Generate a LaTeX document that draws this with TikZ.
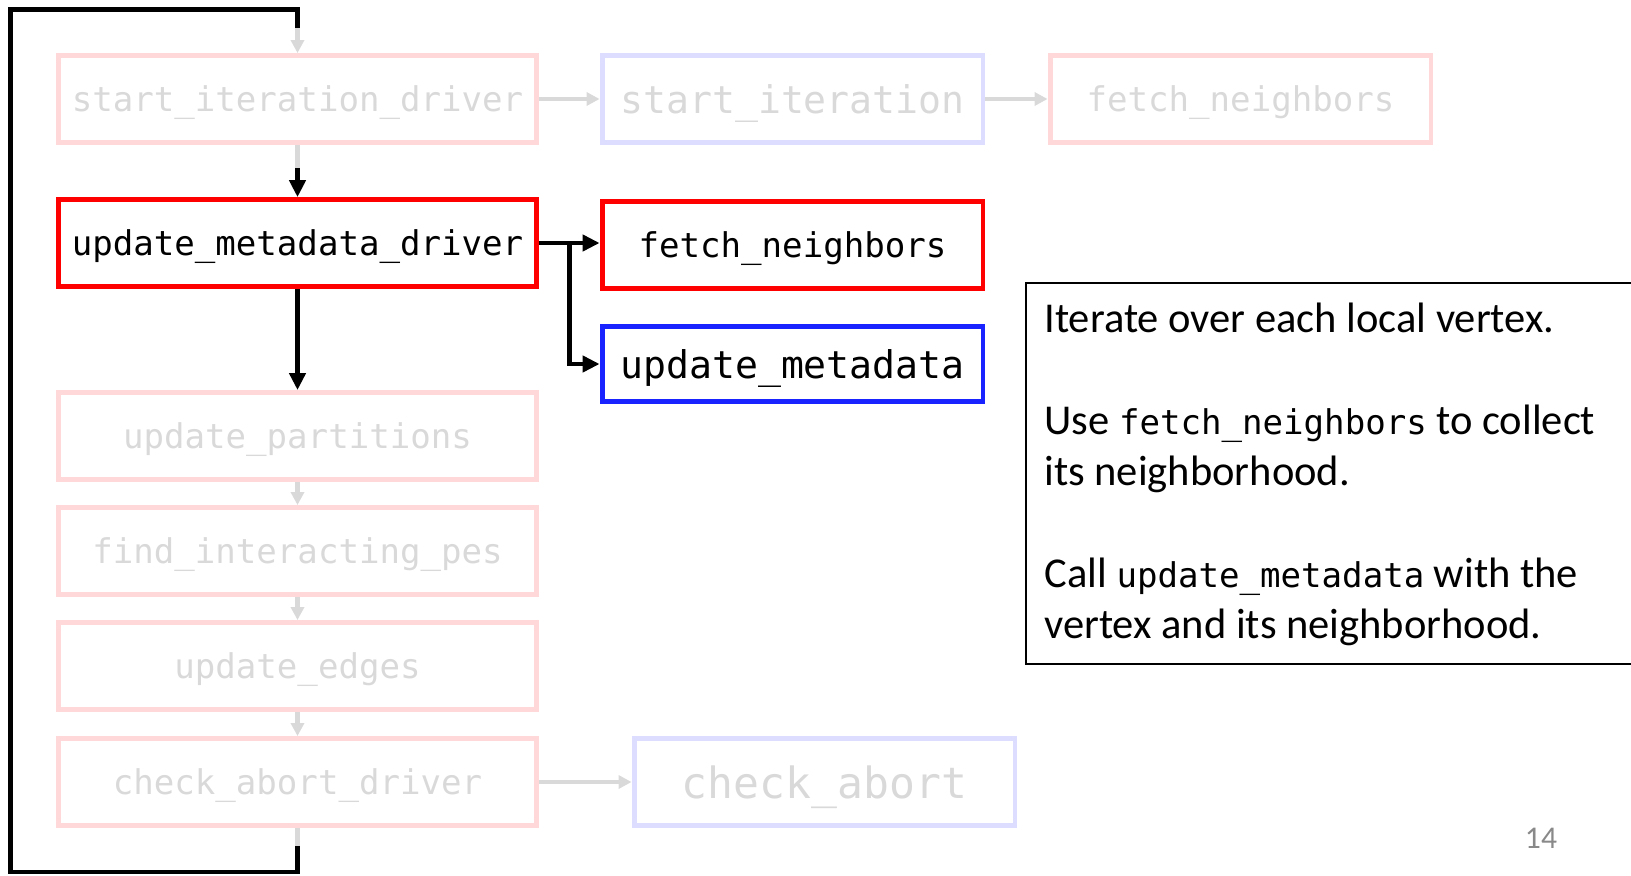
\documentclass[tikz,border=0pt]{standalone}
\usepackage{fontspec}
\setmainfont{Carlito}
\setmonofont{DejaVu Sans Mono}
\usetikzlibrary{arrows.meta, positioning, calc}

\definecolor{fadered}{RGB}{255,217,217}
\definecolor{fadeblue}{RGB}{221,221,255}
\definecolor{fadetext}{RGB}{217,217,217}
\definecolor{hotblue}{RGB}{25,35,255}
\definecolor{pagegray}{RGB}{137,137,137}

\newcommand{\code}[1]{{\ttfamily\fontsize{19.4}{29}\selectfont #1}}

\begin{document}
\begin{tikzpicture}[x=0.02cm, y=-0.02cm,
      box/.style={draw, line width=2.8pt, minimum height=1.74cm, inner sep=0pt,
                  text height=18pt, text depth=3.3pt,
                  font=\ttfamily\fontsize{19.4}{23}\selectfont},
      drv/.style={box, minimum width=9.55cm},
      kern/.style={box, minimum width=7.62cm},
      live/.style={draw=red, text=black},
      liveb/.style={draw=hotblue, text=black},
      dimr/.style={draw=fadered, text=fadetext},
      dimb/.style={draw=fadeblue, text=fadetext},
      big/.style={font=\ttfamily\fontsize{21.7}{26}\selectfont, text height=19.8pt},
      arr/.style={-{Triangle[length=0.34cm, width=0.32cm]}, line width=2.6pt},
      dimarr/.style={-{Triangle[length=0.26cm, width=0.26cm]}, line width=2.3pt, fadetext},
      back/.style={line width=2.7pt}]

    \useasboundingbox (0,0) rectangle (1631,875);

    % driver column
    \node[drv, dimr] (sid) at (297.5, 99)  {start\_iteration\_driver};
    \node[drv, live] (umd) at (297.5, 243) {update\_metadata\_driver};
    \node[drv, dimr] (up)  at (297.5, 436) {update\_partitions};
    \node[drv, dimr] (fip) at (297.5, 551) {find\_interacting\_pes};
    \node[drv, dimr] (ue)  at (297.5, 666) {update\_edges};
    \node[drv, dimr] (cad) at (297.5, 782) {check\_abort\_driver};

    % kernels called by the drivers
    \node[kern, dimb, big] (si)  at (792.5, 99)  {start\_iteration};
    \node[kern, dimr]      (fnf) at (1240.5, 99) {fetch\_neighbors};
    \node[kern, live]      (fn)  at (792.5, 245) {fetch\_neighbors};
    \node[kern, liveb, big, minimum height=1.5cm] (um) at (792.5, 364) {update\_metadata};
    \node[kern, dimb, font=\ttfamily\fontsize{24.5}{29}\selectfont, text height=21.9pt]
         (ca) at (824.5, 782) {check\_abort};

    % faded flow
    \draw[dimarr] (sid) -- (si);
    \draw[dimarr] (si)  -- (fnf);
    \draw[dimarr] (sid) -- (umd);
    \draw[dimarr] (up)  -- (fip);
    \draw[dimarr] (fip) -- (ue);
    \draw[dimarr] (ue)  -- (cad);
    \draw[dimarr] (cad) -- (ca);

    % active step
    \draw[arr] ([yshift=0.58cm]umd.north) -- (umd.north);
    \draw[arr] (umd) -- (up);
    \draw[arr] (umd.east) -- (umd.east -| fn.west);
    \coordinate (split) at ([xshift=0.62cm]umd.east);
    \draw[arr] (split) |- (um.west);

    % loop back to the start
    \coordinate (lb) at ([yshift=-0.36cm]cad.south);
    \coordinate (lt) at ([yshift=0.5cm]sid.north);
    \coordinate (lbot) at (10.5, 872);
    \coordinate (ltop) at (10.5, 9.5);
    \draw[fadetext, line width=2.5pt] (cad.south) -- (lb);
    \draw[dimarr] (lt) -- (sid.north);
    \draw[back] (lb) |- (lbot) -- (ltop) -| (lt);

    % explanation
    \node[draw, line width=1.1pt, minimum width=13cm, minimum height=7.62cm,
          anchor=north west, inner sep=0pt] (frame) at (1025, 282) {};
    \node[anchor=north west, align=left, inner sep=0pt,
          font=\fontsize{24.2}{29}\selectfont] (note)
          at ([xshift=0.38cm, yshift=-0.42cm]frame.north west)
          {Iterate over each local vertex.\\[29pt]
           Use \code{fetch\_neighbors} to collect\\
           its neighborhood.\\[29pt]
           Call \code{update\_metadata} with the\\
           vertex and its neighborhood.};

    \node[text=pagegray, font=\fontsize{18}{20}\selectfont] (pgno) at (1541, 838) {14};

\end{tikzpicture}
\end{document}
